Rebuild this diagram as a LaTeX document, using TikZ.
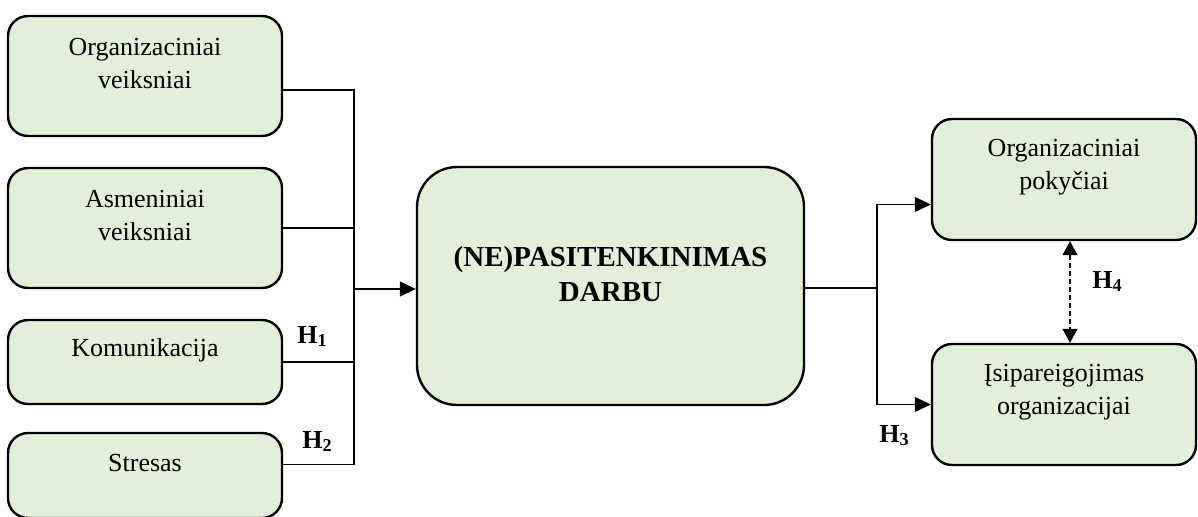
\documentclass[tikz,border=0pt]{standalone}
\usepackage{fontspec}
\setmainfont{Liberation Serif}
\usetikzlibrary{arrows.meta}
\definecolor{boxgreen}{HTML}{E2EFD9}
\begin{document}
\begin{tikzpicture}[x=0.5pt,y=-0.5pt,
  box/.style={draw=black, line width=1.2pt, fill=boxgreen, rounded corners=10pt, inner sep=0pt},
  bigbox/.style={box, rounded corners=20pt},
  lbl/.style={font=\fontsize{13}{16.5}\selectfont, align=center, inner sep=0pt, yshift=6pt},
  biglbl/.style={font=\fontsize{14.5}{17.5}\selectfont\bfseries, align=center, inner sep=0pt, yshift=6pt},
  conn/.style={line width=0.6pt},
  tip/.style={-{Triangle[length=8pt,width=7.5pt]}},
  hyp/.style={font=\fontsize{13}{15}\selectfont\bfseries, anchor=base west, inner sep=0pt}]
\useasboundingbox (0,0) rectangle (1198,516);
% left boxes
\node[box, minimum width=137pt, minimum height=60pt] (b1) at (145,76) {};
\node[box, minimum width=137pt, minimum height=60pt] (b2) at (145,228) {};
\node[box, minimum width=137pt, minimum height=42pt] (b3) at (145,362) {};
\node[box, minimum width=137pt, minimum height=42.5pt] (b4) at (145,475.5) {};
\node[lbl] (t1) at (b1.center) {Organizaciniai\\veiksniai};
\node[lbl] (t2) at (b2.center) {Asmeniniai\\veiksniai};
\node[lbl] (t3) at (b3.center) {Komunikacija};
\node[lbl] (t4) at (b4.center) {Stresas};
% centre box
\node[bigbox, minimum width=193.5pt, minimum height=119pt] (c) at (610.5,286) {};
\node[biglbl] (tc) at (c.center) {(NE)PASITENKINIMAS\\DARBU};
% right boxes
\node[box, minimum width=132pt, minimum height=60.5pt] (r1) at (1064,179.5) {};
\node[box, minimum width=132pt, minimum height=60.5pt] (r2) at (1064,404.5) {};
\node[lbl] (tr1) at (r1.center) {Organizaciniai\\pokyčiai};
\node[lbl] (tr2) at (r2.center) {Įsipareigojimas\\organizacijai};
% connectors left
\coordinate (j) at (354,289);
\draw[conn] ([yshift=-7pt]b1.east) -| (j);
\draw[conn] (b2.east) -| (j);
\draw[conn] (b3.east) -| (j);
\draw[conn] ([yshift=5.5pt]b4.east) -| (j);
\draw[conn,tip] (j) -- (j -| c.west);
% connectors right
\coordinate (k) at (877,288);
\draw[conn] (k -| c.east) -- (k);
\draw[conn,tip] (k) |- ([yshift=-12.5pt]r1.west);
\draw[conn,tip] (k) |- (r2.west);
\draw[conn,dash pattern=on 2.5pt off 1.5pt,{Triangle[length=7pt,width=7.5pt]}-{Triangle[length=7pt,width=7.5pt]}]
  ([xshift=3pt]r1.south) -- ([xshift=3pt]r2.north);
% hypotheses
\node[hyp] (h1) at (297,343) {H\textsubscript{1}};
\node[hyp] (h2) at (302,448) {H\textsubscript{2}};
\node[hyp] (h3) at (879,442) {H\textsubscript{3}};
\node[hyp] (h4) at (1092,288) {H\textsubscript{4}};
\end{tikzpicture}
\end{document}
